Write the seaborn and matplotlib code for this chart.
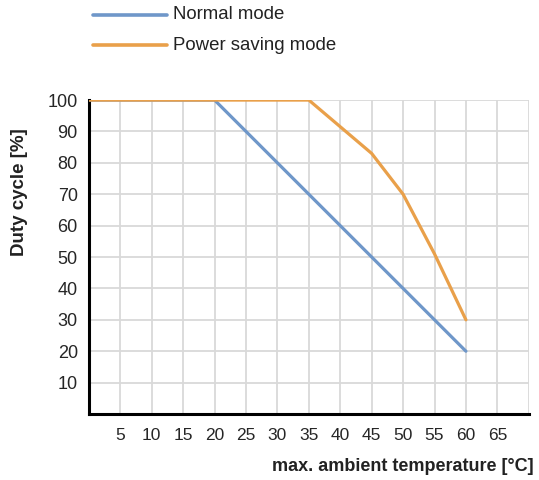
import matplotlib
matplotlib.use("Agg")
import matplotlib.pyplot as plt
import seaborn as sns
import pandas as pd

# derating curves
normal_temp = [0, 20, 60]
normal_duty = [100, 100, 20]
saving_temp = [0, 35, 40, 45, 50, 55, 60]
saving_duty = [100, 100, 91.5, 83, 70, 51, 30]
series_names = ["Normal mode", "Power saving mode"]
series_colors = ["#6f97c9", "#e9a04a"]
x_ticks = [5, 10, 15, 20, 25, 30, 35, 40, 45, 50, 55, 60, 65]
y_ticks = [10, 20, 30, 40, 50, 60, 70, 80, 90, 100]

df = pd.concat([
    pd.DataFrame({"temp": normal_temp, "duty": normal_duty, "mode": series_names[0]}),
    pd.DataFrame({"temp": saving_temp, "duty": saving_duty, "mode": series_names[1]}),
])

sns.set_style("white")
plt.rcParams["font.family"] = ["Liberation Sans", "DejaVu Sans"]

fig = plt.figure(figsize=(5.39, 4.80), dpi=100)
ax = fig.add_axes([0.165, 0.1375, 0.816, 0.654])

# grid drawn by hand so it sits under the curves
for x in range(5, 75, 5):
    ax.axvline(x, color="#d9d9d9", lw=1.3, zorder=0)
for y in range(10, 110, 10):
    ax.axhline(y, color="#d9d9d9", lw=1.3, zorder=0)

sns.lineplot(data=df, x="temp", y="duty", hue="mode", palette=series_colors,
             linewidth=2.3, ax=ax, legend=False, sort=False, zorder=3)

ax.set_xlim(0, 70)
ax.set_ylim(0, 100)
ax.set_xticks(x_ticks)
ax.set_yticks(y_ticks)
ax.set_xticklabels([str(t) for t in x_ticks])
ax.set_yticklabels([str(t) for t in y_ticks])
ax.tick_params(axis="both", direction="in", length=7, width=1.3, color="#333333")
ax.tick_params(axis="x", labelsize=12.5, pad=10)
ax.tick_params(axis="y", labelsize=13, pad=8)

for side in ["top", "right"]:
    ax.spines[side].set_visible(False)
for side in ["left", "bottom"]:
    ax.spines[side].set_color("black")
    ax.spines[side].set_linewidth(2.2)

ax.set_xlabel("")
ax.set_ylabel("")
fig.text(0.99, 0.029, "max. ambient temperature [°C]", ha="right", va="center",
         fontsize=13, fontweight="bold", color="#222222")
fig.text(0.037, 0.6, "Duty cycle [%]", ha="center", va="center", rotation=90,
         fontsize=13.5, fontweight="bold", color="#222222")

# legend above the plot, drawn by hand
legend_y = [0.969, 0.906]
for name, color, ly in zip(series_names, series_colors, legend_y):
    fig.add_artist(plt.Line2D([0.173, 0.31], [ly, ly], color=color, lw=2.6,
                              transform=fig.transFigure))
    fig.text(0.321, ly, name, ha="left", va="center", fontsize=13.4,
             color="#222222")

fig.savefig("out.png", dpi=100)
